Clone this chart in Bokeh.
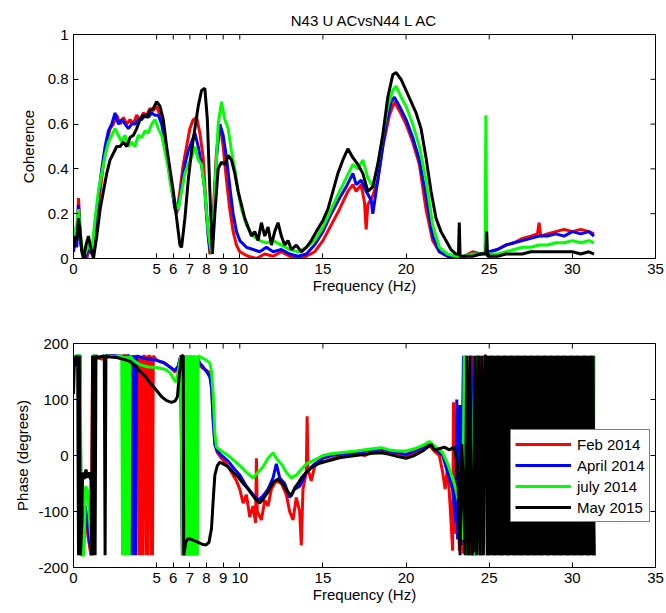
import math
from bokeh.plotting import figure
from bokeh.models import FixedTicker, Legend, LegendItem, Range1d
from bokeh.layouts import column
from bokeh.embed import file_html
from bokeh.resources import INLINE

FONT = "Liberation Sans"

title_text = "N43 U ACvsN44 L AC"
x_label = "Frequency (Hz)"
x_ticks = [0, 5, 6, 7, 8, 9, 10, 15, 20, 25, 30, 35]
coh_ticks = [0, 0.2, 0.4, 0.6, 0.8, 1]
coh_tick_labels = ["0", "0.2", "0.4", "0.6", "0.8", "1"]
phase_ticks = [-200, -100, 0, 100, 200]
phase_tick_labels = ["-200", "-100", "0", "100", "200"]
series_names = ["Feb 2014", "April 2014", "july 2014", "May 2015"]
series_colors = ["#ff0000", "#0000ff", "#00ff00", "#000000"]

# ---- Coherence (freq Hz, coherence) ----
coh_feb = [(0.0,0.06),(0.1,0.12),(0.2,0.08),(0.3,0.27),(0.35,0.2),(0.45,0.06),(0.6,0.02),(0.8,0.0),(1.0,0.06),(1.2,0.02),
 (1.4,0.18),(1.6,0.3),(1.8,0.42),(2.0,0.52),(2.2,0.58),(2.4,0.6),(2.6,0.64),(2.8,0.6),(3.0,0.63),(3.2,0.6),
 (3.4,0.62),(3.6,0.6),(3.8,0.64),(4.0,0.62),(4.2,0.65),(4.4,0.64),(4.6,0.67),(4.8,0.66),(5.0,0.68),(5.2,0.64),
 (5.4,0.58),(5.6,0.48),(5.8,0.36),(6.0,0.28),(6.2,0.2),(6.4,0.3),(6.6,0.42),(6.8,0.5),(7.0,0.58),(7.2,0.62),
 (7.4,0.63),(7.6,0.56),(7.8,0.45),(8.0,0.2),(8.2,0.02),(8.4,0.2),(8.6,0.48),(8.8,0.6),(9.0,0.5),(9.2,0.35),
 (9.4,0.22),(9.6,0.12),(9.8,0.06),(10.0,0.03),(10.5,0.01),(11.0,0.0),(11.5,0.02),(12.0,0.01),(12.5,0.03),(13.0,0.01),
 (13.5,0.0),(14.0,0.01),(14.5,0.03),(15.0,0.08),(15.5,0.15),(16.0,0.22),(16.5,0.3),(16.8,0.33),(17.0,0.3),(17.3,0.33),
 (17.5,0.25),(17.6,0.13),(17.7,0.24),(18.0,0.28),(18.3,0.35),(18.6,0.5),(19.0,0.64),(19.3,0.7),(19.6,0.66),(20.0,0.6),
 (20.4,0.52),(20.8,0.42),(21.2,0.22),(21.6,0.08),(22.0,0.03),(22.5,0.01),(23.0,0.0),(23.5,0.01),(24.0,0.03),(24.5,0.02),
 (25.0,0.03),(25.5,0.04),(26.0,0.06),(26.5,0.07),(27.0,0.09),(27.5,0.1),(27.9,0.11),(28.0,0.16),(28.1,0.1),(28.5,0.11),
 (29.0,0.12),(29.5,0.13),(30.0,0.12),(30.5,0.13),(31.0,0.12),(31.3,0.11)]

coh_apr = [(0.0,0.03),(0.1,0.08),(0.2,0.05),(0.3,0.24),(0.4,0.1),(0.5,0.04),(0.7,0.0),(0.9,0.05),(1.1,0.02),(1.3,0.15),
 (1.5,0.28),(1.7,0.4),(1.9,0.5),(2.1,0.57),(2.3,0.6),(2.5,0.65),(2.7,0.6),(2.9,0.62),(3.1,0.6),(3.3,0.58),
 (3.5,0.6),(3.7,0.6),(3.9,0.62),(4.1,0.62),(4.3,0.64),(4.5,0.63),(4.7,0.65),(4.9,0.64),(5.1,0.64),(5.3,0.6),
 (5.5,0.52),(5.7,0.42),(5.9,0.32),(6.1,0.22),(6.3,0.22),(6.5,0.32),(6.7,0.42),(6.9,0.48),(7.1,0.52),(7.3,0.56),
 (7.5,0.5),(7.7,0.42),(7.9,0.3),(8.1,0.1),(8.25,0.02),(8.4,0.15),(8.6,0.45),(8.8,0.6),(9.0,0.55),(9.2,0.45),
 (9.4,0.32),(9.6,0.2),(9.8,0.12),(10.0,0.08),(10.4,0.05),(10.8,0.04),(11.2,0.03),(11.6,0.05),(12.0,0.03),(12.5,0.04),
 (13.0,0.02),(13.5,0.01),(14.0,0.02),(14.5,0.06),(15.0,0.12),(15.5,0.2),(16.0,0.27),(16.4,0.32),(16.8,0.38),(17.0,0.33),
 (17.3,0.35),(17.6,0.3),(17.9,0.26),(18.0,0.2),(18.2,0.3),(18.5,0.45),(18.8,0.6),(19.1,0.7),(19.3,0.72),(19.6,0.68),
 (20.0,0.62),(20.4,0.54),(20.8,0.44),(21.2,0.28),(21.6,0.1),(22.0,0.03),(22.5,0.01),(23.0,0.0),(23.5,0.01),(24.0,0.02),
 (24.5,0.02),(25.0,0.03),(25.5,0.04),(26.0,0.06),(26.5,0.07),(27.0,0.08),(27.5,0.09),(28.0,0.1),(28.5,0.1),(29.0,0.11),
 (29.5,0.1),(30.0,0.12),(30.5,0.11),(31.0,0.12),(31.3,0.1)]

coh_jul = [(0.0,0.14),(0.1,0.1),(0.2,0.16),(0.3,0.22),(0.4,0.12),(0.5,0.05),(0.7,0.02),(0.9,0.06),(1.1,0.03),(1.3,0.18),
 (1.5,0.3),(1.7,0.38),(1.9,0.46),(2.1,0.52),(2.3,0.55),(2.5,0.58),(2.7,0.55),(2.9,0.52),(3.1,0.55),(3.3,0.5),
 (3.5,0.52),(3.7,0.5),(3.9,0.55),(4.1,0.54),(4.3,0.57),(4.5,0.56),(4.7,0.6),(4.9,0.62),(5.1,0.58),(5.3,0.55),
 (5.5,0.48),(5.7,0.4),(5.9,0.3),(6.1,0.25),(6.3,0.22),(6.5,0.3),(6.7,0.38),(6.9,0.42),(7.1,0.45),(7.3,0.5),
 (7.5,0.44),(7.7,0.42),(7.9,0.3),(8.1,0.12),(8.3,0.02),(8.5,0.3),(8.7,0.6),(8.9,0.7),(9.1,0.62),(9.3,0.58),
 (9.5,0.48),(9.7,0.4),(9.9,0.3),(10.1,0.22),(10.4,0.15),(10.8,0.1),(11.2,0.08),(11.6,0.07),(12.0,0.08),(12.5,0.06),
 (13.0,0.04),(13.5,0.03),(14.0,0.05),(14.5,0.08),(15.0,0.14),(15.5,0.22),(16.0,0.3),(16.4,0.36),(16.8,0.42),(17.1,0.4),
 (17.4,0.44),(17.7,0.36),(18.0,0.32),(18.3,0.42),(18.6,0.55),(18.9,0.68),(19.2,0.75),(19.4,0.77),(19.7,0.72),(20.0,0.68),
 (20.4,0.6),(20.8,0.5),(21.2,0.35),(21.6,0.15),(22.0,0.05),(22.5,0.02),(23.0,0.01),(23.5,0.01),(24.0,0.02),(24.75,0.02),
 (24.8,0.64),(24.85,0.02),(25.5,0.02),(26.0,0.03),(26.5,0.04),(27.0,0.05),(27.5,0.05),(28.0,0.06),(28.5,0.06),(29.0,0.07),
 (29.5,0.07),(30.0,0.08),(30.5,0.07),(31.0,0.08),(31.3,0.07)]

coh_may = [(0.0,0.05),(0.1,0.1),(0.2,0.08),(0.3,0.18),(0.4,0.12),(0.5,0.03),(0.6,0.0),(0.75,0.06),(0.9,0.1),(1.0,0.06),
 (1.2,0.0),(1.4,0.1),(1.6,0.22),(1.8,0.3),(2.0,0.38),(2.2,0.44),(2.4,0.47),(2.6,0.5),(2.8,0.5),(3.0,0.52),
 (3.2,0.5),(3.4,0.54),(3.6,0.55),(3.8,0.58),(4.0,0.62),(4.2,0.64),(4.4,0.63),(4.6,0.66),(4.8,0.67),(5.0,0.7),
 (5.2,0.68),(5.4,0.62),(5.6,0.5),(5.8,0.4),(6.0,0.3),(6.2,0.18),(6.4,0.06),(6.5,0.05),(6.7,0.18),(6.9,0.35),
 (7.1,0.48),(7.3,0.58),(7.5,0.68),(7.7,0.75),(7.9,0.76),(8.05,0.62),(8.2,0.3),(8.35,0.02),(8.5,0.2),(8.7,0.4),
 (8.9,0.43),(9.1,0.42),(9.3,0.46),(9.5,0.44),(9.7,0.38),(9.9,0.3),(10.1,0.24),(10.3,0.18),(10.5,0.14),(10.7,0.1),
 (10.9,0.12),(11.1,0.08),(11.3,0.16),(11.5,0.1),(11.7,0.14),(11.9,0.06),(12.1,0.12),(12.3,0.16),(12.5,0.1),(12.7,0.06),
 (12.9,0.08),(13.1,0.04),(13.4,0.06),(13.7,0.03),(14.0,0.05),(14.3,0.08),(14.6,0.12),(15.0,0.17),(15.3,0.22),(15.6,0.3),
 (15.9,0.38),(16.2,0.44),(16.5,0.49),(16.8,0.45),(17.1,0.42),(17.4,0.38),(17.7,0.3),(18.0,0.32),(18.3,0.42),(18.6,0.55),
 (18.9,0.72),(19.2,0.82),(19.4,0.83),(19.7,0.8),(20.0,0.75),(20.3,0.7),(20.6,0.65),(20.9,0.58),(21.2,0.45),(21.5,0.3),
 (21.8,0.18),(22.1,0.12),(22.4,0.08),(22.7,0.04),(23.0,0.02),(23.15,0.02),(23.2,0.16),(23.25,0.01),(23.6,0.01),(24.0,0.01),
 (24.5,0.02),(24.8,0.02),(24.85,0.12),(24.9,0.01),(25.5,0.01),(26.0,0.02),(26.5,0.02),(27.0,0.02),(27.5,0.03),(28.0,0.03),
 (28.5,0.03),(29.0,0.03),(29.5,0.03),(30.0,0.03),(30.5,0.02),(31.0,0.03),(31.3,0.02)]

# ---- Phase (freq Hz, degrees) ----
ph_feb = [(0.0,170),(0.15,178),(0.3,175),(0.4,178),(0.45,-178),(0.55,-175),(0.65,-100),(0.75,-120),(0.9,-150),(1.05,-178),
 (1.15,178),(1.3,175),(1.8,172),(2.2,178),(2.6,176),(3.0,178),(3.5,177),(3.9,177),
 (3.95,-178),(4.0,178),(4.05,-178),(4.1,178),(4.15,-178),(4.2,178),(4.3,177),(4.35,-178),(4.4,178),(4.45,-178),
 (4.5,178),(4.6,177),(4.65,-178),(4.7,178),(4.75,-178),(4.8,178),
 (5.0,170),(5.5,165),(5.7,160),(5.9,155),(6.1,149),(6.3,158),(6.45,178),
 (6.55,-178),(6.65,178),(6.75,-178),(6.85,178),(6.95,-178),(7.05,178),(7.15,-178),(7.25,178),(7.35,-178),(7.45,175),
 (7.6,160),(7.8,155),(8.0,152),(8.2,148),(8.3,130),(8.4,70),(8.5,20),(8.65,5),(8.9,-5),(9.2,-15),
 (9.5,-30),(9.8,-45),(10.0,-60),(10.2,-85),(10.4,-70),(10.6,-110),(10.8,-90),(10.95,-120),(11.0,-5),(11.05,-100),
 (11.3,-115),(11.5,-80),(11.7,-90),(11.9,-60),(12.2,-45),(12.5,-50),(12.8,-70),(13.0,-100),(13.2,-115),(13.4,-75),
 (13.6,-100),(13.7,-160),(13.8,-60),(14.0,-30),(14.05,70),(14.1,-25),(14.3,-45),(14.5,-20),(14.8,-8),(15.0,-12),
 (15.5,-6),(16.0,-2),(16.5,0),(17.0,4),(17.5,0),(18.0,6),(18.5,8),(19.0,4),(19.5,0),(20.0,-2),
 (20.5,4),(21.0,10),(21.4,18),(21.7,8),(22.0,0),(22.2,-30),(22.35,-60),(22.5,-20),(22.65,-90),(22.8,-170),
 (22.85,95),(22.9,-100),(23.0,-140),(23.1,90),(23.2,-170),(23.35,85),(23.45,-175),
 (23.6,178),(23.8,-178),(24.0,178),(24.2,-178),(24.4,178),(24.6,-178),(24.8,178),(25.0,-178),(25.2,178),(25.4,-178),
 (25.6,178),(25.8,-178),(26.0,178),(26.2,-178),(26.4,178),(26.6,-178),(26.8,178),(27.0,-178),(27.2,178),(27.4,-178),
 (27.6,178),(27.8,-178),(28.0,178),(28.2,-178),(28.4,178),(28.6,-178),(28.8,178),(29.0,-178),(29.2,178),(29.4,-178),
 (29.6,178),(29.8,-178),(30.0,178),(30.2,-178),(30.4,178),(30.6,-178),(30.8,178),(31.0,-178),(31.2,178),(31.3,-178)]

ph_apr = [(0.0,178),(0.1,160),(0.25,178),(0.4,178),(0.45,-178),(0.6,-170),(0.7,-90),(0.8,-110),(0.95,-150),(1.1,-178),
 (1.2,178),(1.5,176),(2.0,178),(2.5,178),(3.0,177),(3.35,178),
 (3.45,-178),(3.5,178),(3.55,-178),(3.6,178),(3.65,-178),(3.7,178),(3.75,-178),(3.8,178),
 (4.2,174),(4.6,172),(5.0,170),(5.4,166),(5.8,158),(6.1,152),(6.3,160),(6.45,178),
 (6.55,-178),(6.65,178),(6.75,-178),(6.85,178),(6.95,-178),(7.05,178),(7.15,-178),(7.25,178),(7.35,-178),(7.45,175),
 (7.6,165),(7.8,158),(8.0,150),(8.2,140),(8.3,120),(8.4,60),(8.5,20),(8.65,8),(8.9,0),(9.3,-10),
 (9.7,-25),(10.0,-35),(10.4,-55),(10.8,-70),(11.1,-80),(11.4,-72),(11.7,-60),(12.0,-40),(12.2,-15),(12.4,-40),
 (12.7,-50),(13.0,-75),(13.3,-60),(13.6,-55),(14.0,-30),(14.5,-15),(15.0,-5),(15.5,0),(16.0,2),(17.0,5),
 (18.0,10),(18.5,12),(19.0,8),(19.5,5),(20.0,2),(20.5,8),(21.0,15),(21.4,22),(21.8,10),(22.2,0),
 (22.5,-30),(22.8,-60),(23.0,-120),(23.05,100),(23.1,-150),(23.25,90),(23.3,-160),(23.45,178),
 (23.7,-178),(23.9,178),(24.1,-178),(24.3,178),(24.5,-178),(24.7,178),(24.9,-178),(25.1,178),(25.3,-178),(25.5,178),
 (25.7,-178),(25.9,178),(26.1,-178),(26.3,178),(26.5,-178),(26.7,178),(26.9,-178),(27.1,178),(27.3,-178),(27.5,178),
 (27.7,-178),(27.9,178),(28.1,-178),(28.3,178),(28.5,-178),(28.7,178),(28.9,-178),(29.1,178),(29.3,-178),(29.5,178),
 (29.7,-178),(29.9,178),(30.1,-178),(30.3,178),(30.5,-178),(30.7,178),(30.9,-178),(31.1,178),(31.3,-178)]

ph_jul = [(0.0,175),(0.2,178),(0.4,178),(0.48,-178),(0.62,-178),(0.72,-55),(0.85,-62),(1.0,-130),(1.15,-178),(1.25,178),
 (1.6,176),(2.0,178),(2.5,176),(2.9,178),
 (2.95,-178),(3.0,178),(3.05,-178),(3.1,178),(3.15,-178),(3.2,178),(3.25,-178),(3.3,178),(3.35,-178),(3.4,178),
 (3.6,170),(4.0,162),(4.5,158),(5.0,157),(5.5,154),(5.8,148),(6.0,138),(6.15,131),(6.3,150),(6.45,178),
 (6.55,-178),(6.6,178),(6.65,-178),(6.7,178),(6.75,-178),(6.8,178),(6.85,-178),(6.9,178),(6.95,-178),(7.0,178),
 (7.05,-178),(7.1,178),(7.15,-178),(7.2,178),(7.25,-178),(7.3,178),(7.35,-178),(7.4,178),(7.45,-178),(7.5,178),
 (7.7,175),(8.0,170),(8.2,165),(8.3,150),(8.4,110),(8.5,40),(8.6,15),(8.9,8),(9.3,0),(9.7,-10),
 (10.0,-18),(10.4,-30),(10.8,-40),(11.1,-30),(11.4,-20),(11.7,-5),(12.0,5),(12.2,-5),(12.5,-15),(12.8,-30),
 (13.1,-40),(13.4,-35),(13.7,-25),(14.0,-15),(14.5,-8),(15.0,0),(15.5,3),(16.0,5),(17.0,8),(18.0,12),
 (18.5,14),(19.0,10),(19.5,8),(20.0,8),(20.5,12),(21.0,18),(21.4,25),(21.8,15),(22.2,5),(22.5,-15),
 (22.8,-40),(23.0,-60),(23.2,-90),(23.3,-140),(23.4,-150),(23.5,178),
 (23.65,-178),(23.85,178),(24.05,-178),(24.25,178),(24.45,-178),(24.65,178),(24.85,-178),(25.05,178),(25.25,-178),(25.45,178),
 (25.65,-178),(25.85,178),(26.05,-178),(26.25,178),(26.45,-178),(26.65,178),(26.85,-178),(27.05,178),(27.25,-178),(27.45,178),
 (27.65,-178),(27.85,178),(28.05,-178),(28.25,178),(28.45,-178),(28.65,178),(28.85,-178),(29.05,178),(29.25,-178),(29.45,178),
 (29.65,-178),(29.85,178),(30.05,-178),(30.25,178),(30.45,-178),(30.65,178),(30.85,-178),(31.05,178),(31.25,-178),(31.3,178)]

ph_may = [(0.0,110),(0.05,160),(0.15,178),(0.25,170),(0.3,-178),(0.35,178),(0.42,-178),(0.5,-120),(0.55,-30),(0.65,-42),
 (0.75,-25),(0.85,-40),(0.95,-30),(1.05,-45),(1.1,-178),(1.15,178),(1.2,-178),(1.25,178),(1.3,-178),(1.35,178),
 (1.5,175),(1.85,178),(1.9,-178),(1.95,178),(2.2,176),(2.6,175),(3.0,172),(3.4,168),(3.7,160),(4.0,150),
 (4.3,142),(4.6,130),(5.0,116),(5.3,105),(5.6,98),(5.9,95),(6.1,97),(6.25,105),(6.35,140),(6.5,178),
 (6.6,178),(6.63,-178),(6.75,-155),(6.9,-148),(7.1,-150),(7.4,-154),(7.7,-158),(7.95,-160),(8.15,-155),(8.3,-130),
 (8.4,-80),(8.5,-35),(8.65,-18),(8.8,-12),(9.0,-15),(9.3,-20),(9.6,-30),(9.9,-38),(10.2,-50),(10.5,-60),
 (10.8,-72),(11.0,-80),(11.2,-85),(11.4,-78),(11.7,-65),(12.0,-48),(12.3,-42),(12.6,-52),(12.9,-65),(13.1,-72),
 (13.3,-58),(13.5,-50),(13.7,-40),(14.0,-30),(14.3,-22),(14.7,-15),(15.0,-12),(15.5,-8),(16.0,-4),(16.5,-2),
 (17.0,0),(17.5,2),(18.0,4),(18.5,5),(19.0,2),(19.5,-2),(20.0,-5),(20.5,0),(21.0,8),(21.3,15),
 (21.5,20),(21.7,10),(22.0,12),(22.3,15),(22.6,10),(22.9,15),(23.1,-20),(23.25,-178),(23.35,20),(23.45,-60),
 (23.55,-178),(23.65,178),(23.75,-178),(23.85,178),(23.95,-178),(24.05,-170),(24.15,178),(24.25,-178),(24.35,178),(24.45,-178),
 (24.55,178),(24.65,-178),(24.75,178),(24.8,178),
 (24.9,-178),(24.95,178),(25.0,-178),(25.05,178),(25.1,-178),(25.15,178),(25.2,-178),(25.25,178),(25.3,-178),(25.35,178),
 (25.4,-178),(25.45,178),(25.5,-178),(25.55,178),(25.6,-178),(25.65,178),(25.7,-178),(25.75,178),(25.8,-178),(25.85,178),
 (25.9,-178),(25.95,178),(26.0,-178),(26.05,178),(26.1,-178),(26.15,178),(26.2,-178),(26.25,178),(26.3,-178),(26.35,178),
 (26.4,-178),(26.45,178),(26.5,-178),(26.55,178),(26.6,-178),(26.65,178),(26.7,-178),(26.75,178),(26.8,-178),(26.85,178),
 (26.9,-178),(26.95,178),(27.0,-178),(27.05,178),(27.1,-178),(27.15,178),(27.2,-178),(27.25,178),(27.3,-178),(27.35,178),
 (27.4,-178),(27.45,178),(27.5,-178),(27.55,178),(27.6,-178),(27.65,178),(27.7,-178),(27.75,178),(27.8,-178),(27.85,178),
 (27.9,-178),(27.95,178),(28.0,-178),(28.05,178),(28.1,-178),(28.15,178),(28.2,-178),(28.25,178),(28.3,-178),(28.35,178),
 (28.4,-178),(28.45,178),(28.5,-178),(28.55,178),(28.6,-178),(28.65,178),(28.7,-178),(28.75,178),(28.8,-178),(28.85,178),
 (28.9,-178),(28.95,178),(29.0,-178),(29.05,178),(29.1,-178),(29.15,178),(29.2,-178),(29.25,178),(29.3,-178),(29.35,178),
 (29.4,-178),(29.45,178),(29.5,-178),(29.55,178),(29.6,-178),(29.65,178),(29.7,-178),(29.75,178),(29.8,-178),(29.85,178),
 (29.9,-178),(29.95,178),(30.0,-178),(30.05,178),(30.1,-178),(30.15,178),(30.2,-178),(30.25,178),(30.3,-178),(30.35,178),
 (30.4,-178),(30.45,178),(30.5,-178),(30.55,178),(30.6,-178),(30.65,178),(30.7,-178),(30.75,178),(30.8,-178),(30.85,178),
 (30.9,-178),(30.95,178),(31.0,-178),(31.05,178),(31.1,-178),(31.15,178),(31.2,-178),(31.25,178),(31.3,-178)]

coh_series = [coh_feb, coh_apr, coh_jul, coh_may]
ph_series = [ph_feb, ph_apr, ph_jul, ph_may]


def style_axis(ax, ticks, labels=None):
    ax.ticker = FixedTicker(ticks=ticks)
    ax.minor_tick_line_color = None
    ax.major_tick_in = 5
    ax.major_tick_out = 0
    ax.axis_line_color = "black"
    ax.major_tick_line_color = "black"
    ax.major_label_text_font = FONT
    ax.major_label_text_color = "black"
    ax.major_label_text_font_size = "15px"
    ax.axis_label_text_font = FONT
    ax.axis_label_text_font_style = "normal"
    ax.axis_label_text_font_size = "15px"
    ax.axis_label_text_color = "black"
    if labels is not None:
        ax.major_label_overrides = {t: l for t, l in zip(ticks, labels)}


def make_fig(height, top, bottom, yr, yticks, ylabels, ylabel, ylabel_standoff, title=None):
    p = figure(width=666, height=height, x_range=Range1d(0, 35), y_range=Range1d(*yr),
               output_backend="svg", toolbar_location=None,
               min_border_left=73, min_border_right=11, min_border_top=top, min_border_bottom=bottom,
               title=title)
    p.xgrid.visible = False
    p.ygrid.visible = False
    p.outline_line_color = "black"
    p.background_fill_color = "white"
    p.border_fill_color = "white"
    style_axis(p.xaxis[0], x_ticks)
    p.xaxis[0].axis_label = x_label
    p.xaxis[0].axis_label_standoff = 0
    style_axis(p.yaxis[0], yticks, ylabels)
    p.yaxis[0].axis_label = ylabel
    p.yaxis[0].axis_label_standoff = ylabel_standoff
    # inward ticks on the top and right edges of the box
    p.ray(x=x_ticks, y=[yr[1]] * len(x_ticks), length=5, angle=-math.pi / 2,
          length_units="screen", line_color="black", line_width=1)
    p.ray(x=[35] * len(yticks), y=yticks, length=5, angle=math.pi,
          length_units="screen", line_color="black", line_width=1)
    if title is not None:
        p.title.align = "center"
        p.title.text_font = FONT
        p.title.text_font_size = "15px"
        p.title.text_font_style = "normal"
        p.title.text_color = "black"
        p.title.standoff = 12
    return p


p1 = make_fig(303, 34, 45, (0, 1), coh_ticks, coh_tick_labels, "Coherence", 8, title=title_text)
for data, color in zip(coh_series, series_colors):
    xs = [d[0] for d in data]
    ys = [d[1] for d in data]
    p1.line(xs, ys, line_color=color, line_width=3)

p2 = make_fig(310, 40, 46, (-200, 200), phase_ticks, phase_tick_labels, "Phase (degrees)", 4)
items = []
for data, color, name in zip(ph_series, series_colors, series_names):
    xs = [d[0] for d in data]
    ys = [d[1] for d in data]
    r = p2.line(xs, ys, line_color=color, line_width=3)
    items.append(LegendItem(label=name, renderers=[r]))

legend = Legend(items=items, location=(437, 45))
legend.margin = 0
legend.padding = 4
legend.spacing = 1
legend.label_height = 20
legend.glyph_height = 20
legend.glyph_width = 56
legend.label_standoff = 6
legend.label_text_font = FONT
legend.label_text_font_size = "15px"
legend.label_text_color = "black"
legend.border_line_color = "black"
legend.border_line_width = 1
legend.background_fill_color = "white"
legend.background_fill_alpha = 1
p2.add_layout(legend)

layout = column(p1, p2)
open("out.html", "w").write(file_html(layout, INLINE))
